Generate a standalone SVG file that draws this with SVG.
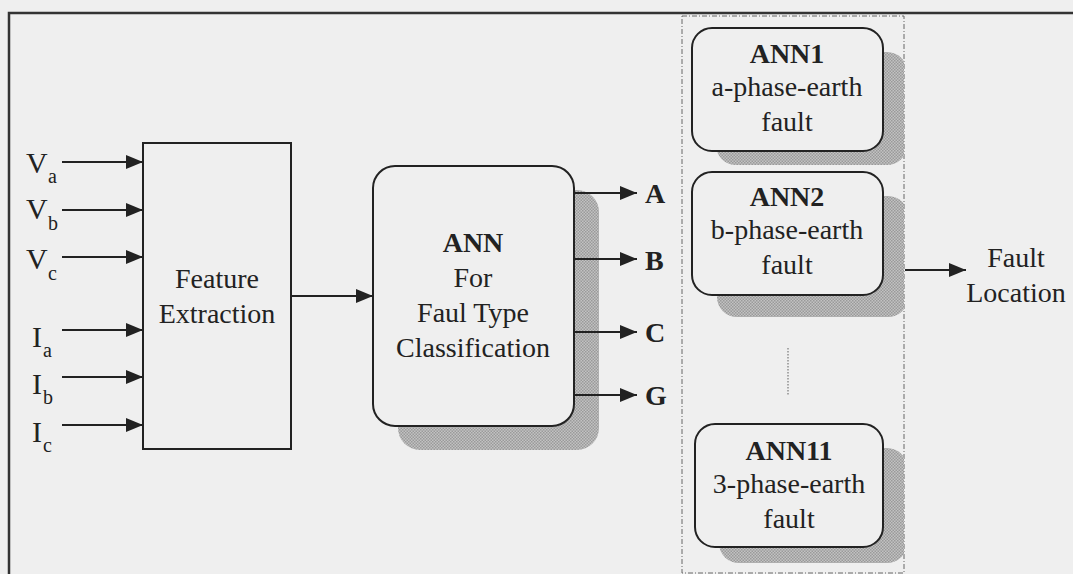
<svg xmlns="http://www.w3.org/2000/svg" width="1073" height="574" viewBox="0 0 1073 574">
  <defs>
    <style>
      .t { font-family: "Liberation Serif", "Times New Roman", serif; fill: #222; }
      .lbl { font-size: 28px; text-anchor: middle; }
      .bold { font-weight: bold; }
      .sig { font-size: 30px; }
      .sub { font-size: 20px; }
      .box { fill: none; stroke: #222; stroke-width: 2; }
      .rbox { fill: #efefef; stroke: #222; stroke-width: 2; }
      .shadow { fill: url(#dither); }
      .wire { stroke: #222; stroke-width: 2; fill: none; }
    </style>
    <pattern id="dither" width="3" height="3" patternUnits="userSpaceOnUse">
      <rect width="3" height="3" fill="#c2c2c2"/>
      <rect width="1.5" height="1.5" fill="#9a9a9a"/>
      <rect x="1.5" y="1.5" width="1.5" height="1.5" fill="#9a9a9a"/>
    </pattern>
    <marker id="arrow" viewBox="0 0 17 14" refX="17" refY="7" markerWidth="17" markerHeight="14" markerUnits="userSpaceOnUse" orient="auto">
      <path d="M0,0 L17,7 L0,14 Z" fill="#222"/>
    </marker>
    <clipPath id="bank">
      <rect x="682" y="16" width="222" height="557"/>
    </clipPath>
  </defs>

  <!-- page background and frame -->
  <rect width="1073" height="574" fill="#efefef"/>
  <path d="M9,574 L9,13 L1073,13" fill="none" stroke="#333" stroke-width="2.5"/>

  <!-- input signals -->
  <g id="inputs">
    <text class="t sig" x="26" y="173">V<tspan class="sub" x="48" y="183">a</tspan></text>
    <text class="t sig" x="26" y="219">V<tspan class="sub" x="48" y="230">b</tspan></text>
    <text class="t sig" x="26" y="269">V<tspan class="sub" x="48" y="280">c</tspan></text>
    <text class="t sig" x="32" y="347">I<tspan class="sub" x="43" y="357">a</tspan></text>
    <text class="t sig" x="32" y="394">I<tspan class="sub" x="43" y="404">b</tspan></text>
    <text class="t sig" x="32" y="442">I<tspan class="sub" x="43" y="452">c</tspan></text>
  </g>

  <!-- feature extraction block -->
  <g id="feature-extraction">
    <rect class="box" x="143" y="143" width="148" height="306"/>
    <text class="t lbl" x="217" y="288">Feature</text>
    <text class="t lbl" x="217" y="323">Extraction</text>
  </g>

  <!-- fault type classifier -->
  <g id="ann-classifier">
    <rect class="shadow" x="398" y="190" width="201" height="260" rx="22"/>
    <rect class="rbox" x="373" y="166" width="201" height="260" rx="22"/>
    <text class="t lbl bold" x="473" y="252">ANN</text>
    <text class="t lbl" x="473" y="287">For</text>
    <text class="t lbl" x="473" y="322">Faul Type</text>
    <text class="t lbl" x="473" y="357">Classification</text>
  </g>

  <!-- classifier outputs -->
  <g id="outputs">
    <text class="t bold" style="font-size:28px" x="645" y="203">A</text>
    <text class="t bold" style="font-size:28px" x="645" y="270">B</text>
    <text class="t bold" style="font-size:28px" x="645" y="342">C</text>
    <text class="t bold" style="font-size:28px" x="645" y="405">G</text>
  </g>

  <!-- bank of fault-location networks -->
  <g id="locator-bank">
    <rect x="682" y="16" width="222" height="557" fill="none" stroke="#666" stroke-width="1" stroke-dasharray="5 2 1 2"/>
    <line x1="788" y1="348" x2="788" y2="395" stroke="#777" stroke-width="1.2" stroke-dasharray="1.5 1.5"/>
  </g>

  <g id="ann1" clip-path="url(#bank)">
    <rect class="shadow" x="716" y="52" width="191" height="113" rx="20"/>
    <rect class="rbox" x="692" y="28" width="191" height="123" rx="20"/>
    <text class="t lbl bold" x="787" y="63">ANN1</text>
    <text class="t lbl" x="787" y="96">a-phase-earth</text>
    <text class="t lbl" x="787" y="131">fault</text>
  </g>

  <g id="ann2" clip-path="url(#bank)">
    <rect class="shadow" x="717" y="196" width="191" height="121" rx="20"/>
    <rect class="rbox" x="692" y="172" width="191" height="123" rx="20"/>
    <text class="t lbl bold" x="787" y="206">ANN2</text>
    <text class="t lbl" x="787" y="239">b-phase-earth</text>
    <text class="t lbl" x="787" y="274">fault</text>
  </g>

  <g id="ann11" clip-path="url(#bank)">
    <rect class="shadow" x="719" y="448" width="188" height="115" rx="20"/>
    <rect class="rbox" x="695" y="424" width="188" height="123" rx="20"/>
    <text class="t lbl bold" x="789" y="460">ANN11</text>
    <text class="t lbl" x="789" y="493">3-phase-earth</text>
    <text class="t lbl" x="789" y="528">fault</text>
  </g>

  <g id="fault-location">
    <text class="t lbl" x="1016" y="267">Fault</text>
    <text class="t lbl" x="1016" y="302">Location</text>
  </g>

  <!-- connectors -->
  <g id="connectors" class="wire">
    <line class="wire" x1="62" y1="162" x2="143" y2="162" marker-end="url(#arrow)"/>
    <line class="wire" x1="62" y1="210" x2="143" y2="210" marker-end="url(#arrow)"/>
    <line class="wire" x1="62" y1="257" x2="143" y2="257" marker-end="url(#arrow)"/>
    <line class="wire" x1="62" y1="330" x2="143" y2="330" marker-end="url(#arrow)"/>
    <line class="wire" x1="62" y1="377" x2="143" y2="377" marker-end="url(#arrow)"/>
    <line class="wire" x1="62" y1="425" x2="143" y2="425" marker-end="url(#arrow)"/>
    <line class="wire" x1="291" y1="296" x2="373" y2="296" marker-end="url(#arrow)"/>
    <line class="wire" x1="574" y1="193" x2="637" y2="193" marker-end="url(#arrow)"/>
    <line class="wire" x1="574" y1="259" x2="637" y2="259" marker-end="url(#arrow)"/>
    <line class="wire" x1="574" y1="332" x2="637" y2="332" marker-end="url(#arrow)"/>
    <line class="wire" x1="574" y1="395" x2="637" y2="395" marker-end="url(#arrow)"/>
    <line class="wire" x1="905" y1="270" x2="966" y2="270" marker-end="url(#arrow)"/>
  </g>
</svg>
